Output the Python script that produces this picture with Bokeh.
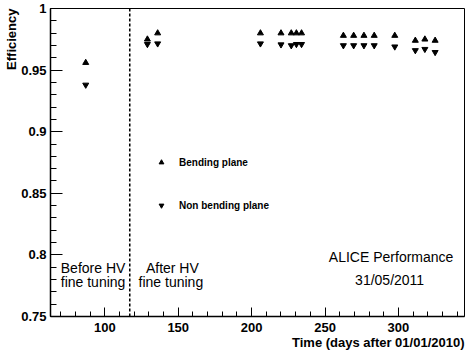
from bokeh.plotting import figure
from bokeh.models import (Range1d, SingleIntervalTicker, CustomJSTickFormatter, Span, Label,
                          Legend, LegendItem, Title, ColumnDataSource)
from bokeh.embed import file_html
from bokeh.resources import INLINE

# ---- data ----
days = [87, 129, 136, 206, 220, 227, 230.5, 234, 262.5, 269.5, 276.5, 283.5, 297.5, 311.5, 318, 325]
bending = [0.956, 0.975, 0.980, 0.980, 0.980, 0.980, 0.980, 0.980,
           0.978, 0.978, 0.978, 0.978, 0.978, 0.974, 0.975, 0.974]
non_bending = [0.938, 0.971, 0.9715, 0.9715, 0.9707, 0.970, 0.971, 0.971,
               0.970, 0.970, 0.970, 0.970, 0.969, 0.966, 0.967, 0.9645]
hv_tuning_day = 117
x_limits = (63, 345)
y_limits = (0.75, 1.0)

FONT = "Liberation Sans"

p = figure(width=469, height=351, output_backend="svg", toolbar_location=None,
           x_range=Range1d(*x_limits), y_range=Range1d(*y_limits),
           min_border_left=50, min_border_right=5, min_border_top=8, min_border_bottom=34)
p.grid.visible = False
p.outline_line_color = "black"
p.outline_line_width = 1
p.background_fill_color = "white"
p.border_fill_color = "white"

for ax in (p.xaxis[0], p.yaxis[0]):
    ax.axis_line_width = 1.5
    ax.major_tick_out = 0
    ax.minor_tick_out = 0
    ax.major_label_text_font = FONT
    ax.major_label_text_font_style = "bold"
    ax.major_label_text_font_size = "13px"
    ax.major_label_text_color = "black"
    ax.major_tick_line_color = "black"
    ax.minor_tick_line_color = "black"
    ax.axis_line_color = "black"

p.xaxis[0].ticker = SingleIntervalTicker(interval=50, num_minor_ticks=5)
p.xaxis[0].major_tick_in = 9
p.xaxis[0].minor_tick_in = 5
p.xaxis[0].major_label_standoff = 6

p.yaxis[0].ticker = SingleIntervalTicker(interval=0.05, num_minor_ticks=5)
p.yaxis[0].major_tick_in = 12
p.yaxis[0].minor_tick_in = 6
p.yaxis[0].major_label_standoff = 4
p.yaxis[0].formatter = CustomJSTickFormatter(
    code="return parseFloat(tick.toFixed(2)).toString();")

p.add_layout(Title(text="Efficiency", align="right", text_font=FONT, text_font_style="bold",
                   text_font_size="13px", text_color="black", standoff=0, offset=0), "left")
p.add_layout(Title(text="Time (days after 01/01/2010)", align="right", vertical_align="top",
                   text_font=FONT, text_font_style="bold", text_font_size="13px",
                   text_color="black", standoff=0, offset=0), "below")

p.add_layout(Span(location=hv_tuning_day, dimension="height", line_color="black",
                  line_width=1.5, line_dash="3 2"))

src = ColumnDataSource(dict(day=days, b=bending, nb=non_bending))
r_b = p.scatter("day", "b", source=src, marker="triangle", size=6,
                fill_color="black", line_color="black")
r_nb = p.scatter("day", "nb", source=src, marker="inverted_triangle", size=6,
                 fill_color="black", line_color="black")

legend = Legend(items=[LegendItem(label="Bending plane", renderers=[r_b]),
                       LegendItem(label="Non bending plane", renderers=[r_nb])],
                location=(105, 101), orientation="vertical",
                glyph_width=12, glyph_height=20, label_height=20, label_standoff=12,
                spacing=23, padding=0, margin=0,
                border_line_color=None, background_fill_alpha=0,
                label_text_font=FONT, label_text_font_style="bold", label_text_font_size="10px",
                label_text_color="black")
p.add_layout(legend, "center")

def add_text(x, y, t):
    p.add_layout(Label(x=x, y=y, text=t, text_align="center", text_baseline="middle",
                       text_font=FONT, text_font_size="14px", text_color="black"))

add_text(92, 0.789, "Before HV")
add_text(92, 0.778, "fine tuning")
add_text(146, 0.789, "After HV")
add_text(145, 0.778, "fine tuning")
add_text(295, 0.798, "ALICE Performance")
add_text(294, 0.7795, "31/05/2011")

open("out.html", "w").write(file_html(p, INLINE))
